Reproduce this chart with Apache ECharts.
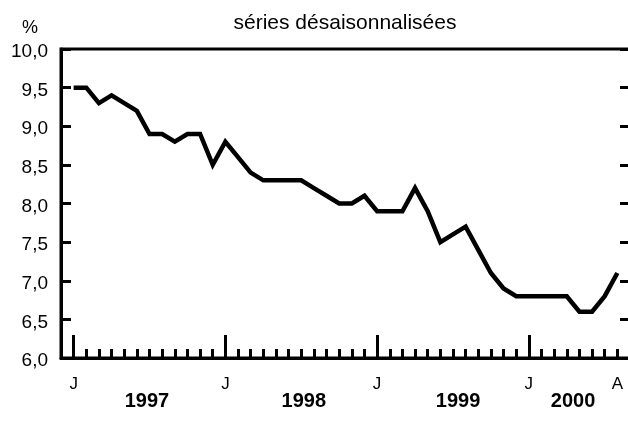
<!DOCTYPE html>
<html><head><meta charset="utf-8">
<script src="https://cdn.jsdelivr.net/npm/echarts@6/dist/echarts.min.js"></script>
<style>html,body{margin:0;padding:0;background:#fff}#c{width:628px;height:426px}</style>
</head><body><div id="c"></div>
<script>
// Categories: months from Dec 1996 (axis start) to Sep 2000 (axis end)
const months = [
 "1996-12",
 "1997-01","1997-02","1997-03","1997-04","1997-05","1997-06","1997-07","1997-08","1997-09","1997-10","1997-11","1997-12",
 "1998-01","1998-02","1998-03","1998-04","1998-05","1998-06","1998-07","1998-08","1998-09","1998-10","1998-11","1998-12",
 "1999-01","1999-02","1999-03","1999-04","1999-05","1999-06","1999-07","1999-08","1999-09","1999-10","1999-11","1999-12",
 "2000-01","2000-02","2000-03","2000-04","2000-05","2000-06","2000-07","2000-08",
 "2000-09"
];
// Series values, Jan 1997 .. Aug 2000
const dataMonths = months.slice(1, 45);
const rate = [9.5,9.5,9.3,9.4,9.3,9.2,8.9,8.9,8.8,8.9,8.9,8.5,
              8.8,8.6,8.4,8.3,8.3,8.3,8.3,8.2,8.1,8.0,8.0,8.1,
              7.9,7.9,7.9,8.2,7.9,7.5,7.6,7.7,7.4,7.1,6.9,6.8,
              6.8,6.8,6.8,6.8,6.6,6.6,6.8,7.1];
// Tick labels
const xTickLabels = {"1997-01":"J","1998-01":"J","1999-01":"J","2000-01":"J","2000-08":"A"};
const majorTicks = ["1997-01","1998-01","1999-01","2000-01"];
const yearLabels = ["1997","1998","1999","2000"];
const yearLabelPos = [5.8, 18.2, 30.4, 39.5]; // month offset from Jan 1997
const yMin = 6, yMax = 10, yStep = 0.5;
const titleText = "séries désaisonnalisées";
const unitText = "%";

const G = {left: 61, top: 49, width: 569, height: 309};
const chart = echarts.init(document.getElementById('c'));
const fontFam = '"Liberation Sans", Arial, sans-serif';
const minorOk = (i) => i >= 1 && i <= 44;

chart.setOption({
  animation: false,
  backgroundColor: '#fff',
  grid: {left: G.left, top: G.top, width: G.width, height: G.height, outerBoundsMode: 'none', containLabel: false,
    show: true, borderColor: '#000', borderWidth: 3, backgroundColor: 'transparent'},
  xAxis: [{
    type: 'category', data: months, boundaryGap: false, position: 'bottom',
    axisLine: {show: true, lineStyle: {color: '#000', width: 3}},
    axisTick: {show: true, inside: true, length: 9, interval: (i) => minorOk(i), lineStyle: {color: '#000', width: 3}},
    axisLabel: {show: true, interval: 0, margin: 18, color: '#000', fontSize: 17, fontFamily: fontFam,
      formatter: (v) => xTickLabels[v] || ''},
    splitLine: {show: false}
  }, {
    type: 'category', data: months, boundaryGap: false, position: 'bottom',
    axisLine: {show: false},
    axisTick: {show: true, inside: true, length: 23, interval: (i, v) => majorTicks.indexOf(v) >= 0, lineStyle: {color: '#000', width: 3}},
    axisLabel: {show: false}, splitLine: {show: false}
  }],
  yAxis: [{
    type: 'value', min: yMin, max: yMax, interval: yStep, position: 'left',
    axisLine: {show: true, lineStyle: {color: '#000', width: 3}},
    axisTick: {show: true, inside: true, length: 10, lineStyle: {color: '#000', width: 3}},
    axisLabel: {color: '#000', fontSize: 19, fontFamily: fontFam, margin: 13, verticalAlign: 'top', lineHeight: 6,
      formatter: (v) => v.toFixed(1).replace('.', ',')},
    splitLine: {show: false}
  }, {
    type: 'value', min: yMin, max: yMax, interval: yStep, position: 'right',
    axisLine: {show: false},
    axisTick: {show: true, inside: true, length: 10, lineStyle: {color: '#000', width: 3}},
    axisLabel: {show: false}, splitLine: {show: false}
  }],
  title: [{text: titleText, left: 340, top: 8, textAlign: 'center',
      textStyle: {fontSize: 21, fontWeight: 'normal', color: '#000', fontFamily: fontFam}},
    {text: unitText, left: 17, top: 14, textStyle: {fontSize: 18, fontWeight: 'normal', color: '#000', fontFamily: fontFam}}],
  series: [{
    type: 'line', xAxisIndex: 0, yAxisIndex: 0,
    data: dataMonths.map((m, i) => [m, rate[i]]),
    symbol: 'none', lineStyle: {color: '#000', width: 4.5, join: 'miter'}, clip: false
  }]
});

// Year labels placed along the category axis
const x0 = chart.convertToPixel({xAxisIndex: 0}, "1997-01");
const x1 = chart.convertToPixel({xAxisIndex: 0}, "1998-01");
const step = (x1 - x0) / 12;
chart.setOption({
  graphic: yearLabels.map((y, k) => ({
    type: 'text', x: x0 + yearLabelPos[k] * step, y: 401,
    style: {text: y, fill: '#000', fontSize: 20, fontWeight: 'bold', fontFamily: fontFam, align: 'center', verticalAlign: 'middle'}
  }))
});
</script></body></html>
